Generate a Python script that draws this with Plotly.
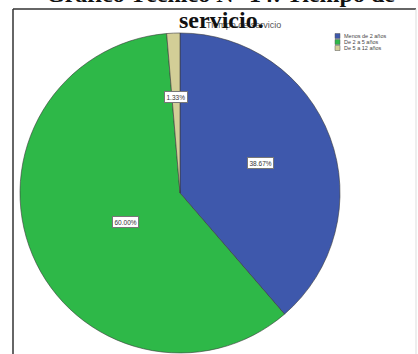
import math
import plotly.graph_objects as go

# Tiempo de servicio: distribution of staff by years of service
categorias = ["Menos de 2 años", "De 2 a 5 años", "De 5 a 12 años"]
porcentajes = [38.67, 60.00, 1.33]
colores = ["#3E58AC", "#2EB848", "#D3CE97"]

W, H = 418, 354

def px(x):
    return x / W

def py(y):
    return 1 - y / H

# pie placement (pixels)
cx, cy, R = 180, 193, 160

fig = go.Figure(
    go.Pie(
        labels=categorias,
        values=porcentajes,
        sort=False,
        direction="clockwise",
        rotation=0,
        marker=dict(colors=colores, line=dict(color="#3a3a3a", width=0.6)),
        textinfo="none",
        hoverinfo="label+percent",
        showlegend=False,
        domain=dict(x=[px(cx - R), px(cx + R)], y=[py(cy + R), py(cy - R)]),
    )
)

annotations = []
shapes = []

# percentage labels in small white boxes, placed at each slice's mid-angle
radio_etiqueta = [0.54, 0.46, 0.64]
total = sum(porcentajes)
acum = 0.0
for v, rf in zip(porcentajes, radio_etiqueta):
    mid = (acum + v / 2) / total * 2 * math.pi
    acum += v
    lx = cx + rf * R * math.sin(mid)
    ly = cy - rf * R * math.cos(mid)
    annotations.append(dict(
        x=px(lx), y=py(ly), xref="paper", yref="paper",
        text=f"{v:.2f}%", showarrow=False,
        font=dict(family="Arial", size=6.5, color="#333"),
        bgcolor="white", bordercolor="#777", borderwidth=1, borderpad=1.5,
    ))

# legend drawn as swatches + labels
for i, (cat, col) in enumerate(zip(categorias, colores)):
    yy = 36 + i * 6
    shapes.append(dict(type="rect", xref="paper", yref="paper",
                       x0=px(335), x1=px(340), y0=py(yy + 2.5), y1=py(yy - 2.5),
                       fillcolor=col, line=dict(width=0.5, color="#555")))
    annotations.append(dict(
        x=px(342), y=py(yy), xref="paper", yref="paper",
        text=cat, showarrow=False, xanchor="left", yanchor="middle",
        font=dict(family="Arial", size=5.5, color="#444"),
    ))

# chart's own small title
annotations.append(dict(
    x=px(243), y=py(18), xref="paper", yref="paper",
    text="Tiempo de servicio", showarrow=False,
    font=dict(family="Arial", size=9, color="#555"),
))

# document caption (two lines, first one mostly above the page)
annotations.append(dict(
    x=px(220), y=py(-21), xref="paper", yref="paper",
    text="<b>Gráfico Técnico N° 14: Tiempo de</b>", showarrow=False,
    font=dict(family="Liberation Serif", size=24, color="#111"),
))
annotations.append(dict(
    x=px(221), y=py(5), xref="paper", yref="paper",
    text="<b>servicio.</b>", showarrow=False,
    font=dict(family="Liberation Serif", size=24, color="#111"),
))

# frame around the chart
shapes += [
    dict(type="line", xref="paper", yref="paper", x0=px(13), x1=px(13),
         y0=py(9), y1=py(360), line=dict(color="#333", width=1.5)),
    dict(type="line", xref="paper", yref="paper", x0=px(13), x1=px(416),
         y0=py(9), y1=py(9), line=dict(color="#333", width=1.5)),
    dict(type="line", xref="paper", yref="paper", x0=px(416), x1=px(416),
         y0=py(9), y1=py(360), line=dict(color="#ddd", width=1)),
]

fig.update_layout(
    width=W, height=H,
    margin=dict(l=0, r=0, t=0, b=0),
    paper_bgcolor="white", plot_bgcolor="white",
    annotations=annotations, shapes=shapes,
)

fig.write_html("out.html")
